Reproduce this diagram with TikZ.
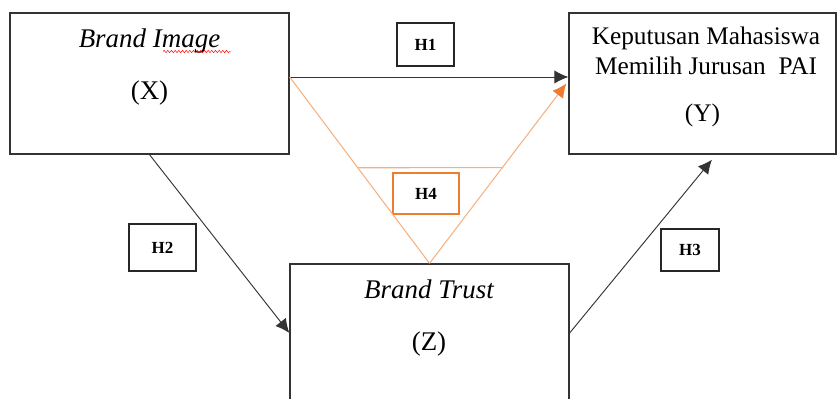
\documentclass[tikz,border=0pt]{standalone}
\usepackage{fontspec}
\setmainfont{Liberation Serif}
\usetikzlibrary{arrows.meta,calc,decorations.pathmorphing}
\definecolor{lineorange}{HTML}{F4B183}
\definecolor{darkorange}{HTML}{ED7D31}
\tikzset{
  varbox/.style={draw=black!80,line width=1.1pt,inner sep=0pt},
  hbox/.style={draw=black!85,line width=0.9pt,inner sep=0pt,font=\fontsize{14.5}{16}\selectfont\bfseries},
  bigtext/.style={inner sep=0pt,anchor=base,font=\fontsize{23}{26}\selectfont},
  ytext/.style={inner sep=0pt,anchor=base,font=\fontsize{21.6}{24}\selectfont},
  arrowline/.style={draw=black!80,line width=0.8pt,-{Latex[length=4.2mm,width=4mm]}},
  orangeline/.style={draw=lineorange,line width=0.9pt}
}
\begin{document}
\begin{tikzpicture}[x=0.03cm,y=-0.03cm]
    \useasboundingbox (0,0) rectangle (837,399);
    % variable boxes
    \node[varbox,minimum width=8.37cm,minimum height=4.23cm] (image) at (149.5,83.5) {};
    \node[varbox,minimum width=8.01cm,minimum height=4.23cm] (keputusan) at (702.5,83.5) {};
    \node[varbox,minimum width=8.37cm,minimum height=4.14cm] (trust) at (429.5,333) {};
    % texts
    \node[bigtext] (imagename) at (149.5,48) {\itshape Brand Image};
    \node[bigtext] (imagevar) at (149.5,100) {(X)};
    \node[ytext] (keputusan1) at (706,45) {Keputusan Mahasiswa};
    \node[ytext] (keputusan2) at (706,75) {Memilih Jurusan\ \ PAI};
    \node[ytext] (keputusanvar) at (702.5,122) {(Y)};
    \node[bigtext] (trustname) at (429,298) {\itshape Brand Trust};
    \node[bigtext] (trustvar) at (429,350) {(Z)};
    \draw[red,line width=0.4pt,decorate,decoration={snake,amplitude=0.35mm,segment length=1.1mm}] (163,51.5) -- (231,51.5);
    % hypothesis labels
    \node[hbox,minimum width=1.71cm,minimum height=1.29cm] (h1) at (425.5,44.5) {H1};
    \node[hbox,minimum width=2.01cm,minimum height=1.41cm] (h2) at (162.5,247.5) {H2};
    \node[hbox,minimum width=1.74cm,minimum height=1.26cm] (h3) at (690,250) {H3};
    \node[hbox,draw=darkorange,line width=2pt,minimum width=1.98cm,minimum height=1.23cm] (h4) at (426,193.5) {H4};
    % paths
    \coordinate (imageright) at ([yshift=1.95mm]image.east);
    \draw[arrowline] (imageright) -- ([yshift=1.95mm]keputusan.west);
    \draw[arrowline] (image.south) -- (trust.west);
    \draw[arrowline] (trust.east) -- ($(keputusan.south)+(9.5,5)$);
    \draw[orangeline] (imageright) -- (trust.north);
    \draw[orangeline,-{Latex[length=4.2mm,width=4mm,color=darkorange]}] (trust.north) -- ($(keputusan.west)+(-2,0)$);
    \draw[orangeline] ($(imageright)!0.487!(trust.north)$) -- ($(trust.north)!0.532!(keputusan.west)$);
\end{tikzpicture}
\end{document}
